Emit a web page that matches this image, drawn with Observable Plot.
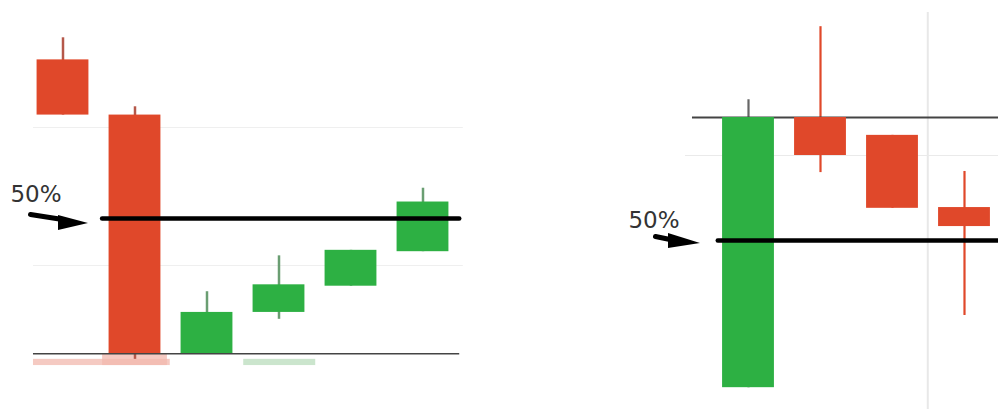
<!DOCTYPE html>
<html>
<head>
<meta charset="utf-8">
<script src="https://cdn.jsdelivr.net/npm/d3@7"></script>
<script src="https://cdn.jsdelivr.net/npm/@observablehq/plot@0.6"></script>
<style>
  html, body { margin: 0; padding: 0; background: #fff; }
  #wrap { display: flex; width: 998px; height: 409px; overflow: hidden; }
  svg { display: block; }
</style>
</head>
<body>
<div id="wrap"></div>
<script>
// ---------- Left panel data ----------
const leftIndex = [0, 1, 2, 3, 4, 5];
const leftOpen  = [124.9, 120.9, 103.6, 106.6, 108.5, 111.0];
const leftClose = [120.9, 103.6, 106.6, 108.6, 111.1, 114.6];
const leftHigh  = [126.5, 121.5, 108.1, 110.7, 111.1, 115.6];
const leftLow   = [120.9, 103.2, 103.6, 106.1, 108.5, 111.0];
const leftGrid = [110, 120];
const leftBase = 103.6;
const leftFifty = 113.4;
const leftShadowFrom = [-0.41, 0.55, 2.51];
const leftShadowTo   = [1.49, 1.45, 3.51];
const leftShadowTop  = [103.2, 103.6, 103.2];
const leftShadowBot  = [102.75, 102.75, 102.75];
const leftShadowUp   = [false, false, true];

// ---------- Right panel data ----------
const rightIndex = [0, 1, 2, 3];
const rightOpen  = [88.9, 160.0, 155.3, 136.3];
const rightClose = [160.0, 150.0, 136.1, 131.3];
const rightHigh  = [164.7, 183.9, 155.3, 145.8];
const rightLow   = [88.9, 145.5, 136.1, 107.9];
const rightGrid = 150;
const rightLevel = 160;
const rightFifty = 127.6;
const rightVGrid = 2.49;

const labelText = "50%";

const RED = "#e0482a";
const GREEN = "#2db043";

const left = leftIndex.map((i, k) => ({i, open: leftOpen[k], close: leftClose[k], high: leftHigh[k], low: leftLow[k]}));
const right = rightIndex.map((i, k) => ({i, open: rightOpen[k], close: rightClose[k], high: rightHigh[k], low: rightLow[k]}));
const shadows = leftShadowFrom.map((f, k) => ({from: f, to: leftShadowTo[k], top: leftShadowTop[k], bottom: leftShadowBot[k], up: leftShadowUp[k]}));

const up = d => d.close >= d.open;
const HALF = 0.36;

// arrow pieces (annotation, in each panel's data units)
const leftArrowHead = [{x: -0.0625, y1: 113.62, y2: 112.54}, {x: 0.354, y1: 113.04, y2: 113.04}];
const rightArrowHead = [{x: -1.111, y1: 129.47, y2: 125.53}, {x: -0.667, y1: 126.84, y2: 126.84}];

const leftPlot = Plot.plot({
  width: 480, height: 409, margin: 0,
  x: {domain: [0, 5], range: [62.5, 422.5], axis: null},
  y: {domain: [110, 120], range: [265, 127], axis: null},
  style: {background: "transparent"},
  marks: [
    Plot.ruleY(leftGrid, {x1: -0.41, x2: 5.56, stroke: "#efefef", strokeWidth: 1.2}),
    Plot.rect(shadows, {x1: "from", x2: "to", y1: "bottom", y2: "top",
      fill: d => d.up ? "#b9dcbc" : "#f2b8ad", fillOpacity: 0.75}),
    Plot.ruleX(left, {x: "i", y1: "low", y2: "high", strokeWidth: 2.5,
      stroke: d => up(d) ? "#6a9e72" : "#b5584a"}),
    Plot.rect(left, {x1: d => d.i - HALF, x2: d => d.i + HALF, y1: "open", y2: "close",
      fill: d => up(d) ? GREEN : RED}),
    Plot.ruleY([leftBase], {x1: -0.41, x2: 5.51, stroke: "#444", strokeWidth: 1.5}),
    Plot.ruleY([leftFifty], {x1: 0.55, x2: 5.51, stroke: "#000", strokeWidth: 4.5, strokeLinecap: "round"}),
    Plot.text([labelText], {x: -0.73, y: 115.14, text: d => d, textAnchor: "start", lineAnchor: "middle",
      fontSize: 23, fontFamily: "DejaVu Sans", fill: "#333"}),
    Plot.link([0], {x1: -0.451, y1: 113.70, x2: -0.007, y2: 113.33, stroke: "#000", strokeWidth: 5, strokeLinecap: "round"}),
    Plot.areaY(leftArrowHead, {x: "x", y1: "y1", y2: "y2", fill: "#000"})
  ]
});

const rightPlot = Plot.plot({
  width: 518, height: 409, margin: 0,
  x: {domain: [0, 3], range: [268, 484], axis: null},
  y: {domain: [150, 160], range: [155, 117], axis: null},
  style: {background: "transparent"},
  marks: [
    Plot.ruleX([rightVGrid], {y1: 187.6, y2: 80, stroke: "#e8e8e8", strokeWidth: 2}),
    Plot.ruleY([rightGrid], {x1: -0.875, x2: 3.5, stroke: "#eaeaea", strokeWidth: 1.2}),
    Plot.ruleX(right, {x: "i", y1: "low", y2: "high", strokeWidth: 2.2,
      stroke: d => up(d) ? "#666" : RED}),
    Plot.ruleY([rightLevel], {x1: -0.778, x2: 3.5, stroke: "#444", strokeWidth: 1.8}),
    Plot.rect(right, {x1: d => d.i - HALF, x2: d => d.i + HALF, y1: "open", y2: "close",
      fill: d => up(d) ? GREEN : RED}),
    Plot.ruleY([rightFifty], {x1: -0.42, x2: 3.5, stroke: "#000", strokeWidth: 4.5, strokeLinecap: "round"}),
    Plot.text([labelText], {x: -1.667, y: 132.9, text: d => d, textAnchor: "start", lineAnchor: "middle",
      fontSize: 23, fontFamily: "DejaVu Sans", fill: "#333"}),
    Plot.link([0], {x1: -1.292, y1: 128.68, x2: -1.056, y2: 127.76, stroke: "#000", strokeWidth: 5, strokeLinecap: "round"}),
    Plot.areaY(rightArrowHead, {x: "x", y1: "y1", y2: "y2", fill: "#000"})
  ]
});

const wrap = document.getElementById("wrap");
wrap.appendChild(leftPlot);
wrap.appendChild(rightPlot);
</script>
</body>
</html>
